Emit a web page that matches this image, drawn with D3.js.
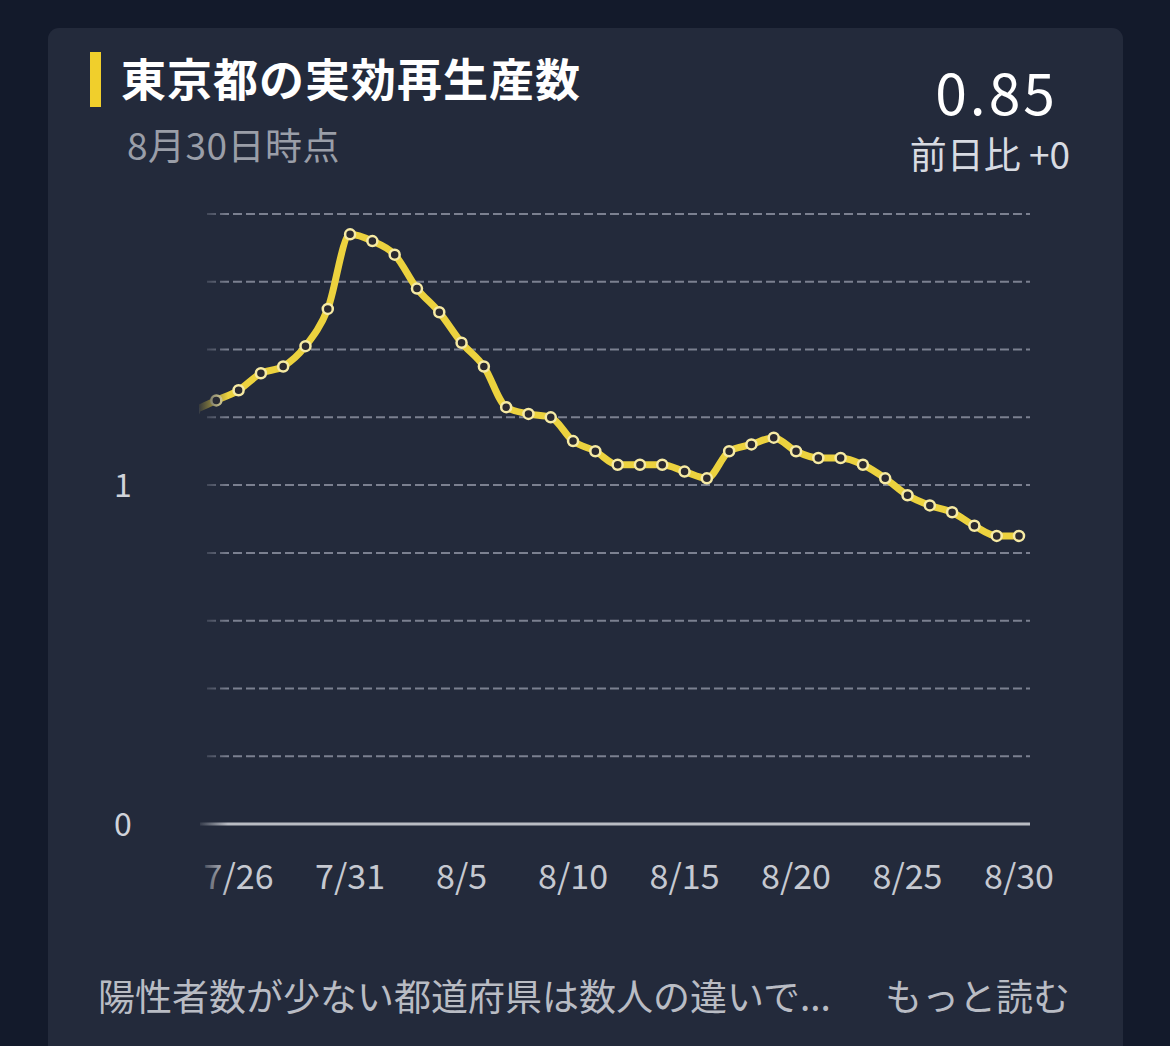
<!DOCTYPE html>
<html><head><meta charset="utf-8">
<script src="https://cdn.jsdelivr.net/npm/d3@7"></script>
<style>
html,body{margin:0;padding:0;background:#131a2b;}
svg{display:block;}
text{font-family:"Noto Sans CJK JP","Noto Sans",sans-serif;}
</style></head><body>
<svg id="c" width="1170" height="1046"></svg>
<script>
const dates = ["7/24","7/25","7/26","7/27","7/28","7/29","7/30","7/31","8/1","8/2","8/3","8/4","8/5","8/6","8/7","8/8","8/9","8/10","8/11","8/12","8/13","8/14","8/15","8/16","8/17","8/18","8/19","8/20","8/21","8/22","8/23","8/24","8/25","8/26","8/27","8/28","8/29","8/30"];
const values = [1.22,1.25,1.28,1.33,1.35,1.41,1.52,1.74,1.72,1.68,1.58,1.51,1.42,1.35,1.23,1.21,1.20,1.13,1.10,1.06,1.06,1.06,1.04,1.02,1.10,1.12,1.14,1.10,1.08,1.08,1.06,1.02,0.97,0.94,0.92,0.88,0.85,0.85];
const tickLabels = ["7/26","7/31","8/5","8/10","8/15","8/20","8/25","8/30"];
const gridValues = [0.2,0.4,0.6,0.8,1.0,1.2,1.4,1.6,1.8];
const yLabels = [0,1];

const svg = d3.select("#c");
const cardBg = "#232a3b";
svg.append("rect").attr("x",48).attr("y",28).attr("width",1075).attr("height",1040).attr("rx",11).attr("fill",cardBg);

// header
svg.append("rect").attr("x",90).attr("y",52).attr("width",11).attr("height",55).attr("fill","#f0cf2c");
svg.append("text").attr("x",121).attr("y",97).attr("fill","#ffffff").attr("font-size",45).attr("font-weight",700).attr("letter-spacing",1).text("東京都の実効再生産数");
svg.append("text").attr("x",127).attr("y",160).attr("fill","#9a9ea8").attr("font-size",37).attr("letter-spacing",0.5).text("8月30日時点");
svg.append("text").attr("x",1058).attr("y",115).attr("text-anchor","end").attr("fill","#ffffff").attr("font-size",57).attr("font-weight",400).attr("font-family","Roboto, 'Noto Sans', sans-serif").attr("letter-spacing",3).text("0.85");
svg.append("text").attr("x",1070).attr("y",169).attr("text-anchor","end").attr("fill","#d8dbe2").attr("font-size",37).text("前日比 +0");

// scales
const x = d3.scalePoint().domain(dates).range([194, 1019]);
const y = d3.scaleLinear().domain([0, 1.8]).range([824, 214]);

// grid
const g = svg.append("g");
g.selectAll("line.grid").data(gridValues).join("line")
  .attr("x1",207).attr("x2",1030).attr("y1",d=>y(d)).attr("y2",d=>y(d))
  .attr("stroke","#7b8090").attr("stroke-width",2).attr("stroke-dasharray","9,4");
g.append("line").attr("x1",200).attr("x2",1030).attr("y1",y(0)).attr("y2",y(0)).attr("stroke","#b9bcc3").attr("stroke-width",3);

// y labels
svg.selectAll("text.yl").data(yLabels).join("text")
  .attr("x",123).attr("y",d=>y(d)+12).attr("text-anchor","middle")
  .attr("fill","#d0d3da").attr("font-size",32).attr("font-family","Roboto, 'Noto Sans', sans-serif").text(d=>d);

// x labels
svg.selectAll("text.xl").data(tickLabels).join("text")
  .attr("x",d=>x(d)).attr("y",889).attr("text-anchor","middle")
  .attr("fill","#c6c9d1").attr("font-size",34).attr("font-family","Roboto, 'Noto Sans', sans-serif").text(d=>d);

// clip
const defs = svg.append("defs");
defs.append("clipPath").attr("id","clip").append("rect").attr("x",199).attr("y",150).attr("width",900).attr("height",700);
const grad = defs.append("linearGradient").attr("id","fade").attr("x1","0").attr("x2","1").attr("y1","0").attr("y2","0");
grad.append("stop").attr("offset","0").attr("stop-color",cardBg).attr("stop-opacity",1);
grad.append("stop").attr("offset","1").attr("stop-color",cardBg).attr("stop-opacity",0);

const data = dates.map((d,i)=>({d, v: values[i]}));
const line = d3.line().x(p=>x(p.d)).y(p=>y(p.v)).curve(d3.curveMonotoneX);
const pg = svg.append("g").attr("clip-path","url(#clip)");
pg.append("path").datum(data).attr("d",line).attr("fill","none").attr("stroke","#ecd23e").attr("stroke-width",7).attr("stroke-linejoin","round");
pg.selectAll("circle").data(data).join("circle")
  .attr("cx",p=>x(p.d)).attr("cy",p=>y(p.v)).attr("r",5)
  .attr("fill","#2b2a30").attr("stroke","#f6eaa4").attr("stroke-width",2.5);

// left fade overlay
svg.append("rect").attr("x",196).attr("y",200).attr("width",32).attr("height",700).attr("fill","url(#fade)");

// footer
svg.append("text").attr("x",98).attr("y",1011).attr("fill","#b9bcc4").attr("font-size",37).text("陽性者数が少ない都道府県は数人の違いで...");
svg.append("text").attr("x",1070).attr("y",1011).attr("text-anchor","end").attr("fill","#b9bcc4").attr("font-size",37).text("もっと読む");
</script>
</body></html>
